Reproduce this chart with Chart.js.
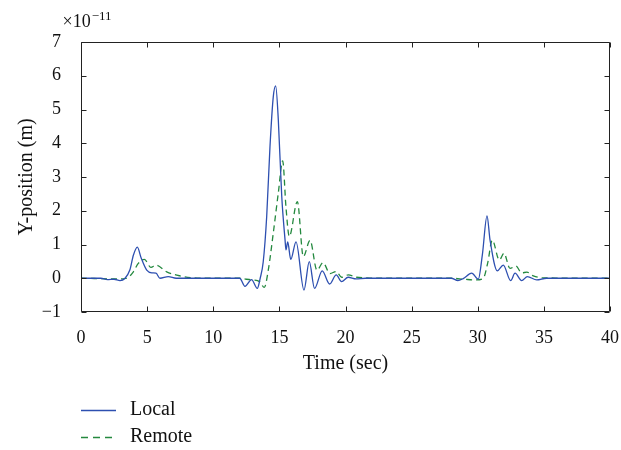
<!DOCTYPE html>
<html>
<head>
<meta charset="utf-8">
<script src="https://cdn.jsdelivr.net/npm/chart.js@4/dist/chart.umd.min.js"></script>
<style>
  html, body { margin: 0; padding: 0; background: #fff; }
</style>
</head>
<body>
<canvas id="chart" width="621" height="450"></canvas>
<script>
// Y-position values are in units of 1e-11 m (the axis shows the multiplier)
const localTime = [0, 1.5, 2.0, 2.5, 2.95, 3.33, 3.7, 3.96, 4.26, 4.55, 4.97, 5.35, 5.67, 5.97, 6.6, 7.2, 8,
    12, 12.4, 12.9, 13.33, 13.55, 13.78, 14.04, 14.29, 14.54, 14.72, 14.92, 15.18, 15.43, 15.5, 15.63, 15.86,
    16.26, 16.86, 17.26, 17.66, 18.24, 18.8, 19.3, 19.7, 20.2, 20.8, 21.5, 22,
    28, 28.5, 28.9, 29.54, 30.04, 30.35, 30.7, 30.93, 31.48, 31.93, 32.49, 32.82, 33.32, 33.75, 34.46, 35.2, 40];
const localY = [0, 0, -0.04, -0.03, -0.07, 0, 0.25, 0.68, 0.92, 0.6, 0.24, 0.16, 0.15, 0, 0.05, 0, 0,
    0, -0.24, -0.04, -0.3, 0, 0.49, 1.82, 3.9, 5.38, 5.7, 4.69, 2.42, 1.13, 0.84, 1.08, 0.56,
    1.08, -0.35, 0.49, -0.3, 0.22, -0.17, 0.1, -0.1, 0.03, -0.02, 0, 0,
    0, -0.07, -0.01, 0.15, -0.03, 0.7, 1.85, 1.13, 0.22, 0.39, -0.07, 0.15, -0.07, 0.05, -0.05, 0, 0];

const remoteTime = [0, 3.0, 3.46, 3.96, 4.33, 4.79, 5.29, 5.67, 6.48, 7.49, 8.5, 9.2,
    12, 12.5, 13.0, 13.5, 13.86, 14.16, 14.54, 14.92, 15.25, 15.5, 15.75, 16.36, 16.81, 17.32, 17.84,
    18.3, 18.83, 19.3, 19.71, 20.21, 20.83, 21.5, 22,
    28, 29.0, 29.87, 30.42, 30.75, 31.1, 31.63, 31.98, 32.44, 32.89, 33.32, 33.72, 34.2, 35, 40];
const remoteY = [0, -0.02, 0, 0.19, 0.44, 0.56, 0.32, 0.39, 0.19, 0.07, 0.01, 0,
    0, -0.03, -0.05, -0.1, -0.27, 0.24, 1.34, 2.53, 3.48, 2.1, 1.24, 2.27, 0.64, 1.12, 0.24,
    0.46, 0.14, 0.2, 0.03, 0.1, 0.03, 0.01, 0,
    0, -0.03, -0.05, 0, 0.45, 1.13, 0.54, 0.74, 0.29, 0.36, 0.16, 0.18, 0.07, 0.01, 0];

const seriesNames = ["Local", "Remote"];
const xTicks = [0, 5, 10, 15, 20, 25, 30, 35, 40];
const yTicks = [-1, 0, 1, 2, 3, 4, 5, 6, 7];
const yExponent = "−11";

const serif = "'Liberation Serif', 'Times New Roman', serif";
const ink = "#111";

const toPoints = (xs, ys) => xs.map((x, i) => ({ x, y: ys[i] }));

// box around the plot with inward tick marks on every side
const framePlugin = {
    id: "frame",
    afterDatasetsDraw(chart) {
        const { ctx, chartArea: a, scales } = chart;
        const L = Math.round(a.left) + 0.5, R = Math.round(a.right) - 0.5;
        const T = Math.round(a.top) + 0.5, B = Math.round(a.bottom) - 0.5;
        ctx.save();
        ctx.strokeStyle = "#222";
        ctx.lineWidth = 1;
        ctx.beginPath();
        ctx.rect(L, T, R - L, B - T);
        xTicks.forEach((v) => {
            const px = Math.round(scales.x.getPixelForValue(v)) + 0.5;
            ctx.moveTo(px, B); ctx.lineTo(px, B - 5);
            ctx.moveTo(px, T); ctx.lineTo(px, T + 5);
        });
        yTicks.forEach((v) => {
            const py = Math.round(scales.y.getPixelForValue(v)) + 0.5;
            ctx.moveTo(L, py); ctx.lineTo(L + 5, py);
            ctx.moveTo(R, py); ctx.lineTo(R - 5, py);
        });
        ctx.stroke();
        ctx.restore();
    },
    afterDraw(chart) {
        const { ctx } = chart;
        ctx.save();
        ctx.fillStyle = ink;
        // axis multiplier
        ctx.textBaseline = "alphabetic";
        ctx.font = "18px " + serif;
        ctx.fillText("×10", 62.5, 26.5);
        const w = ctx.measureText("×10").width;
        ctx.font = "13px " + serif;
        ctx.fillText(yExponent, 62.5 + w + 1, 19.5);

        // stacked legend under the axis title
        ctx.font = "20px " + serif;
        ctx.textBaseline = "middle";
        chart.data.datasets.forEach((ds, i) => {
            const y = 410.5 + i * 27;
            ctx.strokeStyle = ds.borderColor;
            ctx.lineWidth = 1.3;
            ctx.setLineDash(ds.borderDash && ds.borderDash.length ? [7, 5] : []);
            ctx.beginPath();
            ctx.moveTo(81, y);
            ctx.lineTo(116, y);
            ctx.stroke();
            ctx.setLineDash([]);
            ctx.fillText(ds.label, 130, y - 1);
        });
        ctx.restore();
    },
};

new Chart(document.getElementById("chart"), {
    type: "line",
    data: {
        datasets: [
            {
                label: seriesNames[0],
                data: toPoints(localTime, localY),
                borderColor: "#2d4fb0",
                borderWidth: 1.3,
                pointRadius: 0,
                cubicInterpolationMode: "monotone",
                order: 1,
            },
            {
                label: seriesNames[1],
                data: toPoints(remoteTime, remoteY),
                borderColor: "#24893f",
                borderWidth: 1.3,
                borderDash: [6, 4],
                pointRadius: 0,
                cubicInterpolationMode: "monotone",
                order: 2,
            },
        ],
    },
    options: {
        responsive: false,
        animation: false,
        devicePixelRatio: 1,
        layout: { padding: { top: 42, right: 11, bottom: 68, left: 0 } },
        plugins: {
            legend: { display: false },
            tooltip: { enabled: false },
        },
        scales: {
            x: {
                type: "linear",
                min: 0,
                max: 40,
                afterFit: (s) => {
                    s.height = 70;
                    s.paddingLeft = 0;
                    s.paddingRight = 0;
                },
                afterBuildTicks: (s) => { s.ticks = xTicks.map((v) => ({ value: v })); },
                grid: { display: false },
                border: { display: false },
                ticks: { color: ink, font: { family: serif, size: 18 }, padding: 7, maxRotation: 0 },
                title: {
                    display: true,
                    text: "Time (sec)",
                    color: ink,
                    font: { family: serif, size: 20 },
                    padding: { top: 0, bottom: 6 },
                },
            },
            y: {
                min: -1,
                max: 7,
                afterFit: (s) => {
                    s.width = 81;
                    s.paddingTop = 0;
                    s.paddingBottom = 0;
                },
                afterBuildTicks: (s) => { s.ticks = yTicks.map((v) => ({ value: v })); },
                grid: { display: false },
                border: { display: false },
                ticks: {
                    color: ink,
                    font: { family: serif, size: 18 },
                    padding: 12,
                    callback: (v) => (v < 0 ? "−" + Math.abs(v) : String(v)),
                },
                title: {
                    display: true,
                    text: "Y-position (m)",
                    color: ink,
                    font: { family: serif, size: 20 },
                    padding: { top: 15, bottom: 0 },
                },
            },
        },
    },
    plugins: [framePlugin],
});
</script>
</body>
</html>
